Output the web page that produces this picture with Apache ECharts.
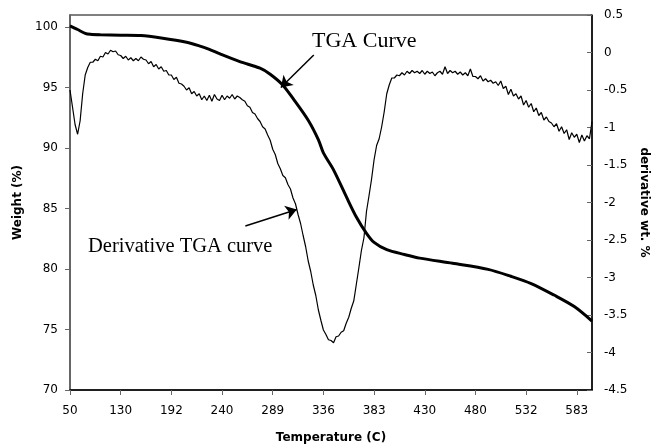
<!DOCTYPE html>
<html>
<head>
<meta charset="utf-8">
<script src="https://cdn.jsdelivr.net/npm/echarts@6/dist/echarts.min.js"></script>
<style>
html,body{margin:0;padding:0;background:#fff;}
#c{width:652px;height:447px;}
</style>
</head>
<body>
<div id="c"></div>
<script>
// x tick labels (Excel category axis: one label every 20 samples)
const tempLabels = ['50','130','192','240','289','336','383','430','480','532','583'];
const samplesPerLabel = 20;

// TGA curve: [sample index, weight %]
const tgaCurve = [
  [0,100.1],[3,99.8],[6,99.48],[8,99.4],[12,99.36],[20,99.33],[28,99.3],[36,99.1],
  [46,98.75],[51,98.45],[55,98.15],[59,97.8],[67,97.15],[75,96.6],[79,96.1],[84,95.2],
  [88,94.1],[94,92.3],[98,90.7],[100,89.6],[104,88.2],[109,86.0],[113,84.3],[117,82.95],
  [120,82.2],[125,81.6],[132,81.2],[138,80.9],[151,80.47],[165,79.97],[174,79.4],
  [182,78.8],[191,77.85],[199,76.9],[206,75.7]
];

// Derivative TGA curve: one value per sample (derivative wt. %)
const derivValues = [
  -0.50,-0.73,-0.96,-1.09,-0.91,-0.55,-0.30,-0.20,-0.13,-0.13,
  -0.09,-0.11,-0.05,-0.06,0.00,-0.02,0.03,0.01,0.02,-0.03,
  -0.04,-0.08,-0.05,-0.10,-0.07,-0.11,-0.08,-0.11,-0.06,-0.09,
  -0.10,-0.15,-0.12,-0.19,-0.16,-0.22,-0.19,-0.25,-0.24,-0.30,
  -0.30,-0.36,-0.33,-0.41,-0.42,-0.45,-0.50,-0.47,-0.55,-0.52,
  -0.58,-0.55,-0.63,-0.58,-0.64,-0.57,-0.65,-0.56,-0.62,-0.64,
  -0.57,-0.63,-0.58,-0.61,-0.56,-0.62,-0.58,-0.60,-0.63,-0.65,
  -0.71,-0.73,-0.80,-0.82,-0.88,-0.92,-0.99,-1.02,-1.10,-1.17,
  -1.29,-1.36,-1.48,-1.55,-1.64,-1.67,-1.76,-1.82,-1.94,-2.02,
  -2.16,-2.28,-2.44,-2.59,-2.78,-2.92,-3.10,-3.24,-3.43,-3.57,
  -3.70,-3.76,-3.83,-3.84,-3.87,-3.79,-3.78,-3.73,-3.71,-3.61,
  -3.53,-3.41,-3.31,-3.09,-2.87,-2.64,-2.47,-2.12,-1.91,-1.69,
  -1.43,-1.24,-1.15,-0.99,-0.79,-0.55,-0.43,-0.34,-0.34,-0.30,
  -0.31,-0.27,-0.30,-0.25,-0.28,-0.24,-0.27,-0.25,-0.28,-0.24,
  -0.29,-0.25,-0.28,-0.26,-0.31,-0.27,-0.25,-0.29,-0.19,-0.28,
  -0.24,-0.27,-0.25,-0.29,-0.26,-0.30,-0.27,-0.31,-0.22,-0.32,
  -0.32,-0.35,-0.31,-0.38,-0.35,-0.39,-0.37,-0.41,-0.39,-0.44,
  -0.38,-0.48,-0.45,-0.56,-0.49,-0.58,-0.55,-0.62,-0.58,-0.70,
  -0.64,-0.73,-0.68,-0.79,-0.74,-0.84,-0.80,-0.90,-0.86,-0.92,
  -0.94,-0.99,-0.95,-1.05,-0.99,-1.08,-1.03,-1.16,-1.07,-1.13,
  -1.09,-1.20,-1.10,-1.18,-1.11,-1.15,-0.92
];

// annotation arrows in data units
const tgaArrow = [[96.2,97.69],[83.2,95.0]];
const derivArrow = [[69.2,-2.313],[89.5,-2.093]];

const chart = echarts.init(document.getElementById('c'), null, {renderer:'canvas'});
const lastSample = derivValues.length - 1;
const tickFont = {fontFamily:'DejaVu Sans', fontSize:12, color:'#000'};
const titleFont = {fontFamily:'DejaVu Sans', fontSize:12, fontWeight:'bold', color:'#000'};
const arrowMark = (pts) => ({
  silent:true, symbol:['none','arrow'], symbolSize:11,
  label:{show:false}, lineStyle:{color:'#000', width:1.5, type:'solid'},
  itemStyle:{color:'#000'},
  emphasis:{disabled:true},
  data:[[{coord:pts[0]},{coord:pts[1]}]]
});

chart.setOption({
  animation:false,
  backgroundColor:'#fff',
  grid:{left:70, right:60, top:15, bottom:57, show:true, borderColor:'#000', borderWidth:1,
        containLabel:false, outerBoundsMode:'none'},
  xAxis:{
    type:'value', min:0, max:lastSample, interval:samplesPerLabel,
    name:'Temperature (C)', nameLocation:'middle', nameGap:42, nameTextStyle:titleFont,
    axisLine:{onZero:false, lineStyle:{color:'#000', width:1.5}},
    axisTick:{show:true, length:5, lineStyle:{color:'#666'}},
    axisLabel:Object.assign({margin:15, showMaxLabel:false,
      formatter:v=>{const k=v/samplesPerLabel; return Number.isInteger(k)&&tempLabels[k]!==undefined?tempLabels[k]:'';}}, tickFont),
    splitLine:{show:false}
  },
  yAxis:[{
    type:'value', min:70, max:101, interval:5, position:'left',
    name:'Weight (%)', nameLocation:'middle', nameGap:44, nameRotate:90, nameTextStyle:titleFont,
    axisLine:{show:true, onZero:false, lineStyle:{color:'#666', width:2}},
    axisTick:{show:true, length:5, lineStyle:{color:'#666'}},
    axisLabel:Object.assign({margin:12, showMaxLabel:false,
      formatter:v=>(v%5===0?String(v):'')}, tickFont),
    splitLine:{show:false}
  },{
    type:'value', min:-4.5, max:0.5, interval:0.5, position:'right',
    name:'derivative wt. %', nameLocation:'middle', nameGap:46, nameRotate:-90, nameTextStyle:titleFont,
    axisLine:{show:true, onZero:false, lineStyle:{color:'#000', width:1.5}},
    axisTick:{show:true, inside:true, length:5, lineStyle:{color:'#666'}},
    axisLabel:Object.assign({margin:12}, tickFont),
    splitLine:{show:false}
  }],
  series:[{
    type:'line', name:'TGA Curve', yAxisIndex:0, data:tgaCurve, smooth:0.3,
    showSymbol:false, lineStyle:{color:'#000', width:3}, z:3,
    markLine:arrowMark(tgaArrow)
  },{
    type:'line', name:'Derivative TGA curve', yAxisIndex:1,
    data:derivValues.map((v,i)=>[i,v]),
    showSymbol:false, lineStyle:{color:'#000', width:1.2}, z:2,
    markLine:arrowMark(derivArrow)
  }],
  graphic:[
    {type:'text', left:312, top:30, style:{text:'TGA Curve', font:'22px "Liberation Serif"', fill:'#000'}},
    {type:'text', left:88, top:236, style:{text:'Derivative TGA curve', font:'20.5px "Liberation Serif"', fill:'#000'}}
  ]
});
</script>
</body>
</html>
